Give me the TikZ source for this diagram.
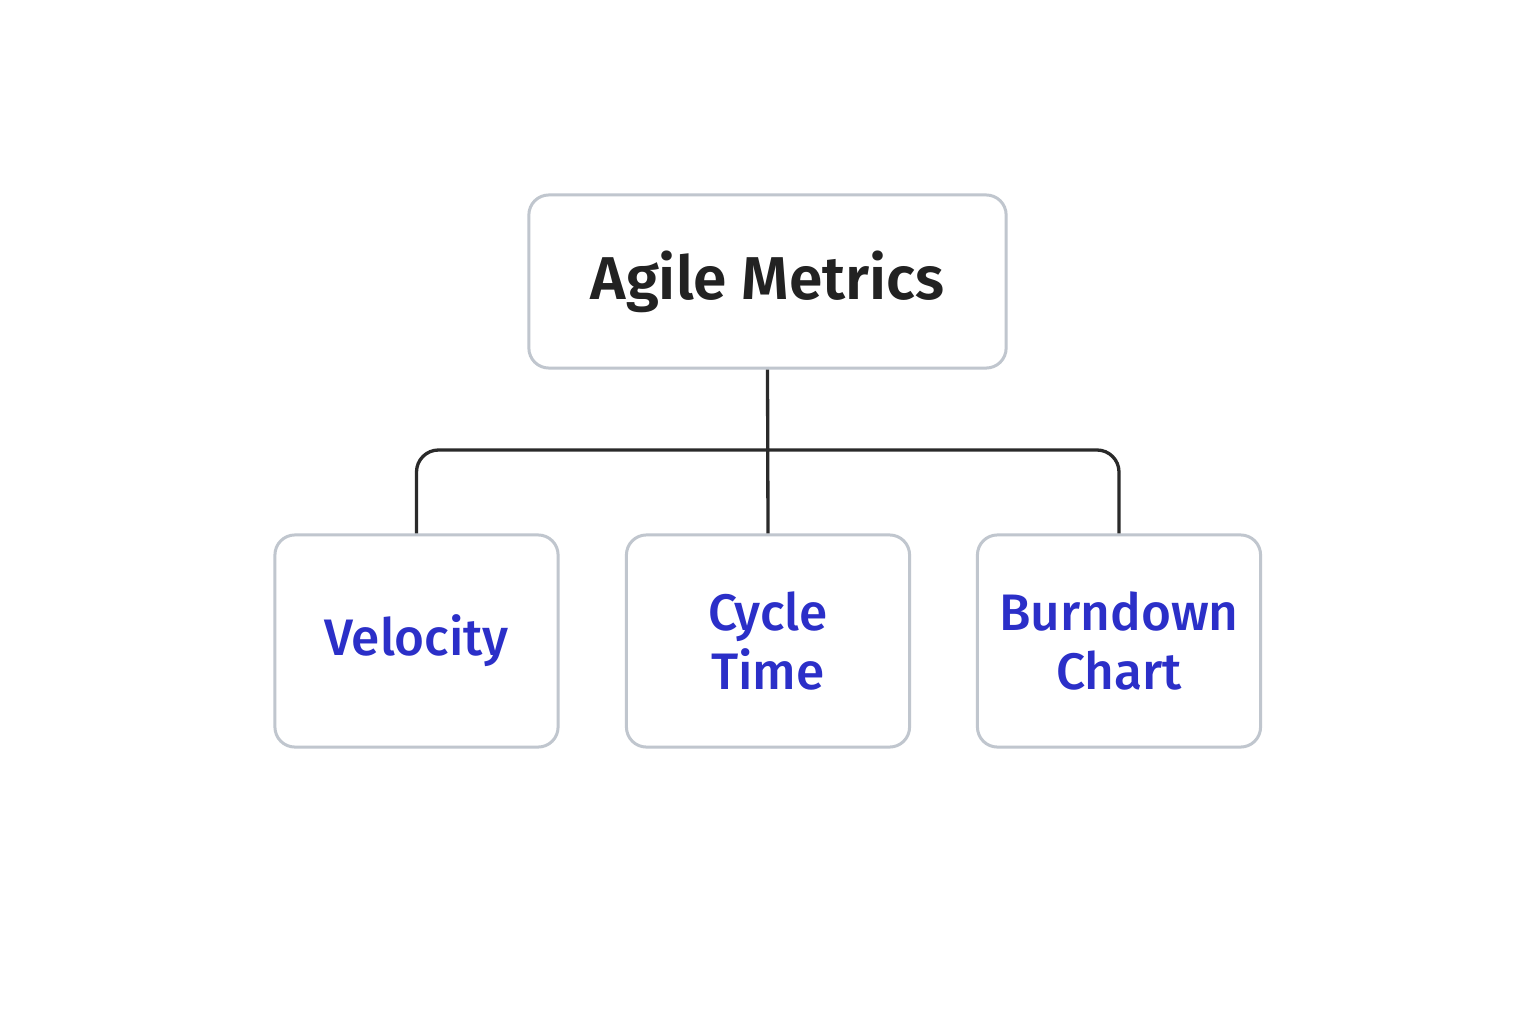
\documentclass[tikz,border=0pt]{standalone}
\usepackage{fontspec}
\setmainfont{Fira Sans}[BoldFont={Fira Sans SemiBold}]
\newfontfamily\mediumfont{Fira Sans Medium}
\usepackage{tikz}
\usetikzlibrary{positioning}
\definecolor{boxline}{HTML}{C0C6CE}
\definecolor{linkline}{HTML}{2A2A2A}
\definecolor{metricblue}{HTML}{2B2FC8}
\definecolor{titletext}{HTML}{222222}

\begin{document}
\begin{tikzpicture}[x=0.01cm,y=-0.01cm,
		metric/.style={draw=boxline,line width=0.03cm,fill=white,rounded corners=0.2cm,
			minimum width=2.83cm,minimum height=2.12cm,align=center,text=metricblue,
			font=\fontsize{14.6}{16.8}\selectfont\mediumfont},
		link/.style={draw=linkline,line width=0.033cm,rounded corners=0.22cm}]
			\fill[white!98!black!1] (0,0) rectangle (1536,1024);
			\useasboundingbox (0,0) rectangle (1536,1024);
			\node[metric,minimum width=4.77cm,minimum height=1.73cm,text=titletext,
				font=\fontsize{17.2}{20}\selectfont\bfseries] (agile) at (767.5,281.5) {Agile Metrics};
			\node[metric] (velocity) at (416.5,641) {Velocity};
			\node[metric] (cycle) at (768,641) {Cycle\\Time};
			\node[metric] (burndown) at (1119,641) {Burndown\\Chart};
			\coordinate (bus) at (768,450);
			\path[link] (agile.south) -- (cycle.north)
				(velocity.north) |- (bus) -| (burndown.north);
		\end{tikzpicture}
\end{document}
